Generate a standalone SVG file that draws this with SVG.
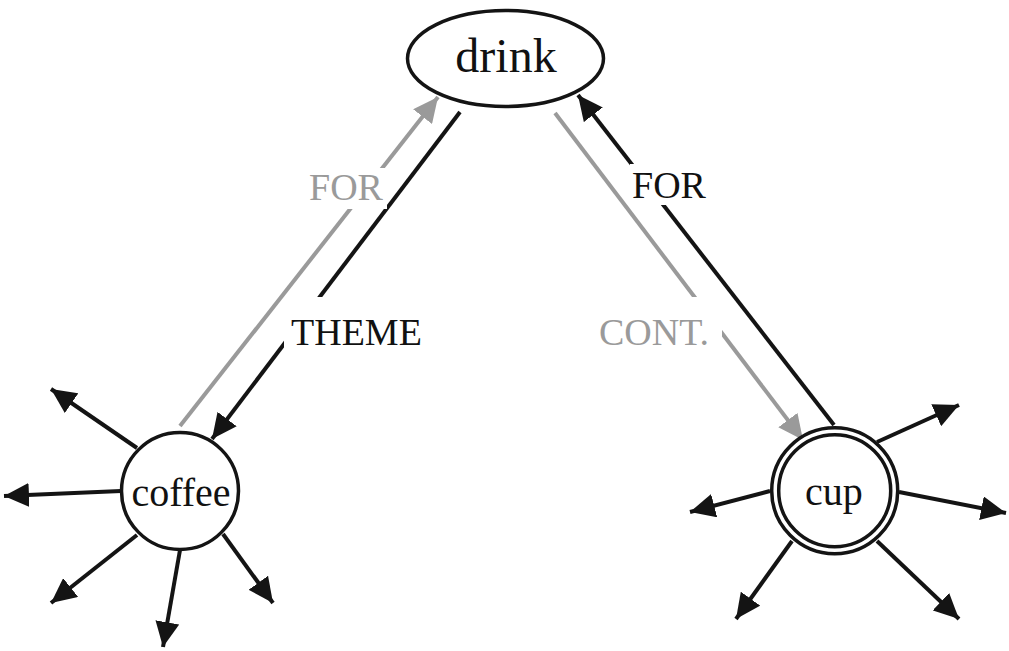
<svg xmlns="http://www.w3.org/2000/svg" width="1009" height="651" viewBox="0 0 1009 651">
<defs>
<style>
.node{fill:#fff;stroke:#141414;stroke-width:3.5}
.blk{stroke:#141414;stroke-width:4;fill:none}
.gry{stroke:#9a9a9a;stroke-width:4;fill:none}
.t{font-family:"Liberation Serif","Times New Roman",serif;fill:#111}
.lbl{font-family:"Liberation Serif","Times New Roman",serif;font-size:38px}
.bg{fill:#fff}
</style>
<marker id="ab" markerUnits="userSpaceOnUse" markerWidth="26" markerHeight="24" viewBox="0 0 26 24" refX="25" refY="12" orient="auto">
<path d="M0,0 L25,12 L0,24 z" fill="#141414"/>
</marker>
<marker id="ag" markerUnits="userSpaceOnUse" markerWidth="26" markerHeight="24" viewBox="0 0 26 24" refX="25" refY="12" orient="auto">
<path d="M0,0 L25,12 L0,24 z" fill="#9a9a9a"/>
</marker>
</defs>
<rect width="1009" height="651" fill="#fff"/>
<g id="connectors">
<line class="gry" x1="180" y1="426" x2="438" y2="97" marker-end="url(#ag)"/>
<line class="blk" x1="460" y1="112" x2="212" y2="439" marker-end="url(#ab)"/>
<line class="gry" x1="555" y1="113" x2="803" y2="440" marker-end="url(#ag)"/>
<line class="blk" x1="834" y1="425" x2="578" y2="95" marker-end="url(#ab)"/>
<line class="blk" x1="137" y1="448" x2="51" y2="389" marker-end="url(#ab)"/>
<line class="blk" x1="121" y1="491" x2="4" y2="496" marker-end="url(#ab)"/>
<line class="blk" x1="137" y1="535" x2="51" y2="603" marker-end="url(#ab)"/>
<line class="blk" x1="180" y1="550" x2="163" y2="647" marker-end="url(#ab)"/>
<line class="blk" x1="223" y1="534" x2="273" y2="603" marker-end="url(#ab)"/>
<line class="blk" x1="877" y1="442" x2="959" y2="405" marker-end="url(#ab)"/>
<line class="blk" x1="899" y1="492" x2="1006" y2="513" marker-end="url(#ab)"/>
<line class="blk" x1="770" y1="491" x2="690" y2="512" marker-end="url(#ab)"/>
<line class="blk" x1="792" y1="541" x2="736" y2="619" marker-end="url(#ab)"/>
<line class="blk" x1="877" y1="541" x2="959" y2="619" marker-end="url(#ab)"/>
<rect class="bg" x="306" y="168" width="81" height="41"/>
<text class="lbl" x="309" y="200" fill="#9a9a9a">FOR</text>
<rect class="bg" x="284" y="297" width="146" height="54"/>
<text class="lbl" x="291" y="345" fill="#111">THEME</text>
<rect class="bg" x="630" y="164" width="80" height="41"/>
<text class="lbl" x="632" y="198" fill="#111">FOR</text>
<rect class="bg" x="596" y="297" width="126" height="58"/>
<text class="lbl" x="599" y="345" fill="#9a9a9a">CONT.</text>
</g>
<g id="drink">
<ellipse class="node" cx="505.5" cy="58.5" rx="98" ry="48"/>
<text class="t" x="506" y="72" font-size="48" text-anchor="middle">drink</text>
</g>
<g id="coffee">
<circle class="node" cx="180" cy="491" r="58.5"/>
<text class="t" x="181" y="506" font-size="40" text-anchor="middle">coffee</text>
</g>
<g id="cup">
<circle class="node" cx="834.7" cy="490.7" r="63"/>
<circle class="node" cx="834.7" cy="490.7" r="56"/>
<text class="t" x="834" y="505" font-size="40" text-anchor="middle">cup</text>
</g>
</svg>
